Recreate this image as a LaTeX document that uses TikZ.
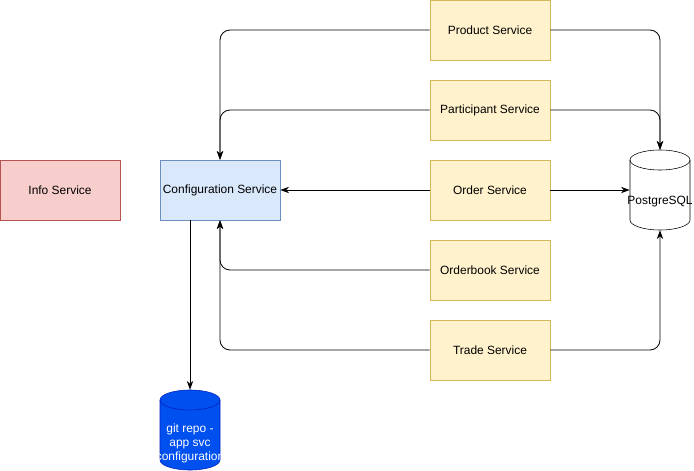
\documentclass[tikz,border=0pt]{standalone}
\usepackage{fontspec}
\setmainfont{Liberation Sans}
\usetikzlibrary{arrows.meta}
\definecolor{infofill}{HTML}{F8CECC}
\definecolor{infoline}{HTML}{B85450}
\definecolor{cfgfill}{HTML}{DAE8FC}
\definecolor{cfgline}{HTML}{6C8EBF}
\definecolor{svcfill}{HTML}{FFF2CC}
\definecolor{svcline}{HTML}{D6B656}
\definecolor{gitfill}{HTML}{0050EF}
\definecolor{gitline}{HTML}{001DBC}
\begin{document}
\begin{tikzpicture}[x=0.025cm, y=-0.025cm, every node/.style={font=\fontsize{8.5}{10}\selectfont}]
  \tikzstyle{svc}=[draw,minimum width=3cm,minimum height=1.5cm,align=center,inner sep=0pt]
  \tikzstyle{store}=[minimum width=1.5cm,minimum height=2cm,inner sep=0pt]
  \tikzstyle{edge}=[-{Stealth[length=2.2mm,width=1.6mm]},rounded corners=0.25cm,semithick]
  \useasboundingbox (0,0) rectangle (694,471);
  % left side
  \node[svc,fill=infofill,draw=infoline] (info) at (60,190) {Info Service};
  \node[svc,fill=cfgfill,draw=cfgline] (config) at (220,190) {Configuration Service};
  % services
  \node[svc,fill=svcfill,draw=svcline] (product) at (490,30) {Product Service};
  \node[svc,fill=svcfill,draw=svcline] (participant) at (490,110) {Participant Service};
  \node[svc,fill=svcfill,draw=svcline] (order) at (490,190) {Order Service};
  \node[svc,fill=svcfill,draw=svcline] (orderbook) at (490,270) {Orderbook Service};
  \node[svc,fill=svcfill,draw=svcline] (trade) at (490,350) {Trade Service};
  % stores
  \node[store] (pg) at (660,190) {};
  \draw[fill=white] (630,160) -- (630,220) arc[start angle=180,end angle=360,x radius=0.75cm,y radius=0.25cm]
    -- (690,160) arc[start angle=0,end angle=180,x radius=0.75cm,y radius=0.25cm] -- cycle;
  \draw (630,160) arc[start angle=180,end angle=360,x radius=0.75cm,y radius=0.25cm];
  \node (pglabel) at (660,202) {PostgreSQL};
  \node[store] (git) at (190,430) {};
  \draw[fill=gitfill,draw=gitline] (160,400) -- (160,460) arc[start angle=180,end angle=360,x radius=0.75cm,y radius=0.25cm]
    -- (220,400) arc[start angle=0,end angle=180,x radius=0.75cm,y radius=0.25cm] -- cycle;
  \draw[draw=gitline] (160,400) arc[start angle=180,end angle=360,x radius=0.75cm,y radius=0.25cm];
  \node[text=white,align=center] (gitlabel) at (190,443) {git repo -\\app svc\\configuration};
  % to config service
  \draw[edge] (product.west) -| (config.north);
  \draw[edge] (participant.west) -| (config.north);
  \draw[edge] (order.west) -- (config.east);
  \draw[edge] (orderbook.west) -| (config.south);
  \draw[edge] (trade.west) -| (config.south);
  % to database
  \draw[edge] (product.east) -| (pg.north);
  \draw[edge] (participant.east) -| (pg.north);
  \draw[edge] (order.east) -- (pg.west);
  \draw[edge] (trade.east) -| (pg.south);
  % config repo
  \draw[edge] (config.south -| git.north) -- (git.north);
\end{tikzpicture}
\end{document}
